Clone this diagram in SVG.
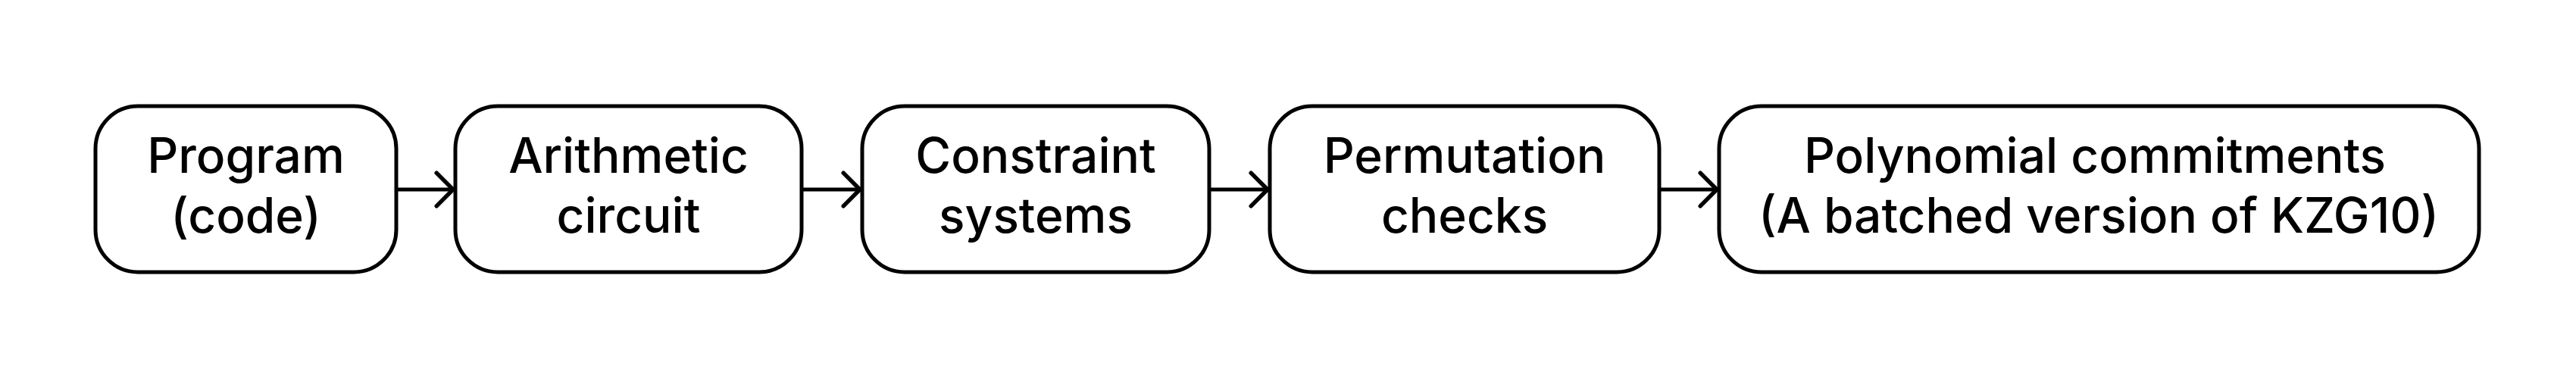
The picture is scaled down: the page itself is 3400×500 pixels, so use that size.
<svg xmlns="http://www.w3.org/2000/svg" width="3400" height="500" viewBox="0 0 3400 500">
<style>
.box{fill:#fff;stroke:#000;stroke-width:5}
.lbl{font-family:Inter,"Liberation Sans",sans-serif;font-size:64px;font-weight:500;fill:#000;text-anchor:middle}
.edge{stroke:#000;stroke-width:5;fill:none;marker-end:url(#arr)}
</style>
<defs>
<marker id="arr" markerUnits="userSpaceOnUse" markerWidth="40" markerHeight="60" viewBox="-5 -5 35 55" refX="20" refY="20" orient="auto" overflow="visible">
<path d="M0,0 L20,20 L0,40" fill="none" stroke="#000" stroke-width="5" stroke-linecap="round" stroke-linejoin="miter"/>
</marker>
</defs>
<rect width="3400" height="500" fill="#fff"/>
<g id="connectors">
<line class="edge" x1="523" y1="250" x2="598" y2="250"/>
<line class="edge" x1="1058" y1="250" x2="1135" y2="250"/>
<line class="edge" x1="1596" y1="250" x2="1673" y2="250"/>
<line class="edge" x1="2190" y1="250" x2="2266" y2="250"/>
</g>
<g id="n1">
<rect class="box" x="126" y="140" width="397" height="219" rx="56"/>
<text class="lbl" x="324.5" y="228">Program</text>
<text class="lbl" x="324.5" y="307">(code)</text>
</g>
<g id="n2">
<rect class="box" x="601" y="140" width="457" height="219" rx="56"/>
<text class="lbl" x="829.5" y="228">Arithmetic</text>
<text class="lbl" x="829.5" y="307">circuit</text>
</g>
<g id="n3">
<rect class="box" x="1138" y="140" width="458" height="219" rx="56"/>
<text class="lbl" x="1367" y="228">Constraint</text>
<text class="lbl" x="1367" y="307">systems</text>
</g>
<g id="n4">
<rect class="box" x="1676" y="140" width="514" height="219" rx="56"/>
<text class="lbl" x="1933" y="228">Permutation</text>
<text class="lbl" x="1933" y="307">checks</text>
</g>
<g id="n5">
<rect class="box" x="2269" y="140" width="1003" height="219" rx="56"/>
<text class="lbl" x="2765" y="228">Polynomial commitments</text>
<text class="lbl" x="2770" y="307">(A batched version of KZG10)</text>
</g>
</svg>
